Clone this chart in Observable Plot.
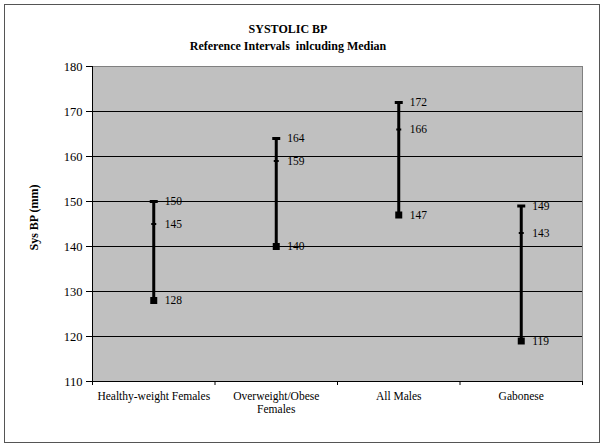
<!DOCTYPE html>
<html>
<head>
<meta charset="utf-8">
<script src="https://cdn.jsdelivr.net/npm/d3@7"></script>
<script src="https://cdn.jsdelivr.net/npm/@observablehq/plot@0.6"></script>
<style>
  html, body { margin: 0; padding: 0; background: white; }
</style>
</head>
<body>
<div id="chart"></div>
<script>
const categories = ["Healthy-weight Females", "Overweight/Obese\nFemales", "All Males", "Gabonese"];
const lowValues = [128, 140, 147, 119];
const medianValues = [145, 159, 166, 143];
const highValues = [150, 164, 172, 149];
const yTicks = [110, 120, 130, 140, 150, 160, 170, 180];
const gridValues = [120, 130, 140, 150, 160, 170];
const titleLines = ["SYSTOLIC BP", "Reference Intervals  inlcuding Median"];
const yLabel = "Sys BP (mm)";

const rows = categories.map((c, i) => ({
  cat: c, pos: i + 0.5, low: lowValues[i], med: medianValues[i], high: highValues[i]
}));
const boundaries = d3.range(categories.length + 1);

const capSymbol = { draw(ctx) { ctx.rect(-4, -1.5, 8, 3); } };
const medSymbol = { draw(ctx) { ctx.rect(-2.5, -1, 5, 2); } };
const lowSymbol = { draw(ctx) { ctx.rect(-3.5, -3.5, 7, 7); } };

const font = "'Liberation Serif', 'Times New Roman', serif";

const chart = Plot.plot({
  width: 604,
  height: 447,
  marginLeft: 92,
  marginRight: 22,
  marginTop: 66,
  marginBottom: 66,
  style: { fontFamily: font, fontSize: "12.5px", color: "black", background: "white", overflow: "visible" },
  x: { type: "linear", domain: [0, categories.length], axis: null },
  y: { domain: [110, 180], axis: null },
  marks: [
    Plot.frame({ fill: "#c0c0c0", stroke: "#808080" }),
    Plot.ruleY(gridValues, { stroke: "black", strokeWidth: 1 }),
    Plot.ruleY([110], { stroke: "black", strokeWidth: 1 }),
    Plot.ruleX([0], { stroke: "black", strokeWidth: 1 }),
    Plot.axisY({ ticks: yTicks, tickSize: 6, tickPadding: 4, fontSize: 12.5, label: null, stroke: "black" }),
    Plot.axisX({ ticks: boundaries, tickFormat: () => "", tickSize: 4, label: null, stroke: "black" }),
    Plot.text(rows, { x: "pos", y: 110, text: "cat", lineAnchor: "top", dy: 9, fontSize: 11.5, lineHeight: 1.12, fill: "black" }),
    Plot.ruleX(rows, { x: "pos", y1: "low", y2: "high", stroke: "black", strokeWidth: 3 }),
    Plot.dot(rows, { x: "pos", y: "high", symbol: capSymbol, fill: "black", stroke: "none" }),
    Plot.dot(rows, { x: "pos", y: "med", symbol: medSymbol, fill: "black", stroke: "none" }),
    Plot.dot(rows, { x: "pos", y: "low", symbol: lowSymbol, fill: "black", stroke: "none" }),
    Plot.text(rows, { x: "pos", y: "high", text: d => String(d.high), dx: 11, textAnchor: "start", fontSize: 11.5, fill: "black" }),
    Plot.text(rows, { x: "pos", y: "med", text: d => String(d.med), dx: 11, textAnchor: "start", fontSize: 11.5, fill: "black" }),
    Plot.text(rows, { x: "pos", y: "low", text: d => String(d.low), dx: 11, textAnchor: "start", fontSize: 11.5, fill: "black" })
  ]
});

const svg = d3.select(chart);
svg.insert("rect", ":first-child")
  .attr("x", 4.5).attr("y", 4.5).attr("width", 595).attr("height", 438)
  .attr("fill", "white").attr("stroke", "#555").attr("stroke-width", 1);
svg.append("text").attr("x", 288).attr("y", 33).attr("text-anchor", "middle")
  .attr("font-family", font).attr("font-weight", "bold").attr("font-size", 12).attr("fill", "black")
  .text(titleLines[0]);
svg.append("text").attr("x", 288).attr("y", 50).attr("text-anchor", "middle")
  .attr("font-family", font).attr("font-weight", "bold").attr("font-size", 12).attr("fill", "black")
  .attr("xml:space", "preserve").style("white-space", "pre")
  .text(titleLines[1]);
svg.append("text").attr("transform", "translate(37.5,217.5) rotate(-90)").attr("text-anchor", "middle")
  .attr("font-family", font).attr("font-weight", "bold").attr("font-size", 12).attr("fill", "black")
  .text(yLabel);

document.getElementById("chart").appendChild(chart);
</script>
</body>
</html>
